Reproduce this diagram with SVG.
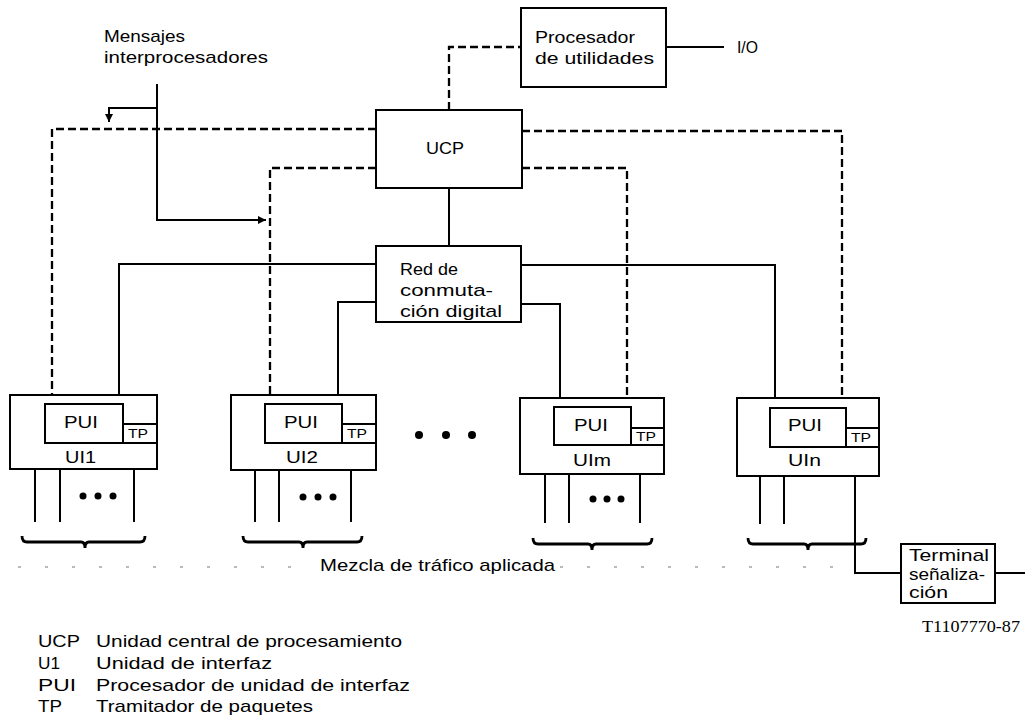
<svg xmlns="http://www.w3.org/2000/svg" width="1030" height="721" viewBox="0 0 1030 721">
<style>
.box{fill:#fff;stroke:#000;stroke-width:2}
.sol{fill:none;stroke:#000;stroke-width:2}
.dsh{fill:none;stroke:#000;stroke-width:2.3;stroke-dasharray:8 4}
.brc{fill:none;stroke:#000;stroke-width:2.8}
.t{font-family:"Liberation Sans",Arial,sans-serif;font-size:17px;fill:#000}
.s{font-family:"Liberation Sans",Arial,sans-serif;font-size:12px;fill:#000}
.ser{font-family:"Liberation Serif","Times New Roman",serif;font-size:16px;fill:#000}
.dot{fill:#000}
</style>
<defs>
<marker id="ah" viewBox="0 0 10 10" refX="10" refY="5" markerWidth="9" markerHeight="8" markerUnits="userSpaceOnUse" orient="auto">
<path d="M0,0 L10,5 L0,10 z" fill="#000"/>
</marker>
</defs>
<rect width="1030" height="721" fill="#fff"/>

<g id="connectors">
<path class="dsh" d="M376,129 H52 V395"/>
<path class="dsh" d="M522,131 H842 V398"/>
<path class="dsh" d="M376,168 H270 V395"/>
<path class="dsh" d="M522,168 H627 V398"/>
<path class="dsh" d="M449,110 V47 H521"/>
<path class="sol" d="M449,188 V246"/>
<path class="sol" d="M376,264 H119 V395"/>
<path class="sol" d="M376,302 H338 V395"/>
<path class="sol" d="M521,265 H775 V398"/>
<path class="sol" d="M521,304 H560 V398"/>
<path class="sol" d="M666,47 H724"/>
<path class="sol" d="M157,84 V220 H266" marker-end="url(#ah)"/>
<path class="sol" d="M157,108 H109 V122" marker-end="url(#ah)"/>
<path class="sol" d="M35,469 V522 M60,469 V522 M134,469 V522"/>
<path class="sol" d="M255,470 V522 M279,470 V522 M351,470 V522"/>
<path class="sol" d="M545,474 V523 M569,474 V523 M640,474 V523"/>
<path class="sol" d="M760,476 V524 M784,476 V524"/>
<path class="sol" d="M855,476 V573 H901"/>
<path class="sol" d="M995,573 H1025"/>
</g>

<g id="braces">
<path class="brc" d="M22,536 Q22,542 27,542 L81,542 Q85,542 85,548 Q85,542 89,542 L140,542 Q145,542 145,536"/>
<path class="brc" d="M243,536 Q243,542 248,542 L299,542 Q303,542 303,548 Q303,542 307,542 L357,542 Q362,542 362,536"/>
<path class="brc" d="M533,538 Q533,544 538,544 L588,544 Q592,544 592,550 Q592,544 596,544 L647,544 Q652,544 652,538"/>
<path class="brc" d="M748,538 Q748,544 753,544 L804,544 Q808,544 808,550 Q808,544 812,544 L861,544 Q866,544 866,538"/>
</g>

<g id="ellipsis">
<circle class="dot" cx="83" cy="496" r="3.5"/><circle class="dot" cx="98" cy="496" r="3.5"/><circle class="dot" cx="113" cy="496" r="3.5"/>
<circle class="dot" cx="303" cy="497" r="3.5"/><circle class="dot" cx="318" cy="497" r="3.5"/><circle class="dot" cx="333" cy="497" r="3.5"/>
<circle class="dot" cx="593" cy="499" r="3.5"/><circle class="dot" cx="607" cy="499" r="3.5"/><circle class="dot" cx="621" cy="499" r="3.5"/>
<circle class="dot" cx="419" cy="435" r="4"/><circle class="dot" cx="446" cy="435" r="4"/><circle class="dot" cx="472" cy="435" r="4"/>
</g>

<g id="ucp">
<rect class="box" x="376" y="110" width="146" height="78"/>
<text class="t" x="426" y="154" textLength="38" lengthAdjust="spacingAndGlyphs">UCP</text>
</g>

<g id="procesador">
<rect class="box" x="521" y="8" width="145" height="79"/>
<text class="t" x="535" y="43" textLength="100" lengthAdjust="spacingAndGlyphs">Procesador</text>
<text class="t" x="535" y="64" textLength="119" lengthAdjust="spacingAndGlyphs">de utilidades</text>
</g>

<text class="t" x="737" y="53" textLength="21" lengthAdjust="spacingAndGlyphs">I/O</text>

<g id="mensajes">
<text class="t" x="104" y="42" textLength="81" lengthAdjust="spacingAndGlyphs">Mensajes</text>
<text class="t" x="104" y="63" textLength="164" lengthAdjust="spacingAndGlyphs">interprocesadores</text>
</g>

<g id="red">
<rect class="box" x="376" y="246" width="145" height="76"/>
<text class="t" x="400" y="275" textLength="58" lengthAdjust="spacingAndGlyphs">Red de</text>
<text class="t" x="400" y="296" textLength="93" lengthAdjust="spacingAndGlyphs">conmuta-</text>
<text class="t" x="400" y="317" textLength="102" lengthAdjust="spacingAndGlyphs">ción digital</text>
</g>

<g id="ui1">
<rect class="box" x="10" y="395" width="147" height="74"/>
<rect class="box" x="45" y="404" width="78" height="39"/>
<rect class="box" x="123" y="424" width="34" height="19"/>
<line class="sol" x1="45" y1="443" x2="157" y2="443"/>
<text class="t" x="64" y="428" textLength="34" lengthAdjust="spacingAndGlyphs">PUI</text>
<text class="s" x="128" y="438" textLength="20" lengthAdjust="spacingAndGlyphs">TP</text>
<text class="t" x="65" y="463" textLength="31" lengthAdjust="spacingAndGlyphs">UI1</text>
</g>

<g id="ui2">
<rect class="box" x="231" y="395" width="145" height="75"/>
<rect class="box" x="265" y="404" width="77" height="39"/>
<rect class="box" x="342" y="424" width="34" height="19"/>
<line class="sol" x1="265" y1="443" x2="376" y2="443"/>
<text class="t" x="284" y="428" textLength="34" lengthAdjust="spacingAndGlyphs">PUI</text>
<text class="s" x="347" y="438" textLength="20" lengthAdjust="spacingAndGlyphs">TP</text>
<text class="t" x="286" y="463" textLength="32" lengthAdjust="spacingAndGlyphs">UI2</text>
</g>

<g id="uim">
<rect class="box" x="520" y="398" width="144" height="76"/>
<rect class="box" x="554" y="407" width="77" height="38"/>
<rect class="box" x="631" y="428" width="33" height="17"/>
<line class="sol" x1="554" y1="445" x2="664" y2="445"/>
<text class="t" x="574" y="431" textLength="34" lengthAdjust="spacingAndGlyphs">PUI</text>
<text class="s" x="636" y="441" textLength="20" lengthAdjust="spacingAndGlyphs">TP</text>
<text class="t" x="573" y="466" textLength="38" lengthAdjust="spacingAndGlyphs">UIm</text>
</g>

<g id="uin">
<rect class="box" x="737" y="398" width="142" height="78"/>
<rect class="box" x="770" y="408" width="76" height="39"/>
<rect class="box" x="846" y="428" width="33" height="19"/>
<line class="sol" x1="770" y1="447" x2="879" y2="447"/>
<text class="t" x="788" y="431" textLength="34" lengthAdjust="spacingAndGlyphs">PUI</text>
<text class="s" x="851" y="442" textLength="20" lengthAdjust="spacingAndGlyphs">TP</text>
<text class="t" x="788" y="466" textLength="33" lengthAdjust="spacingAndGlyphs">UIn</text>
</g>

<g id="terminal">
<rect class="box" x="901" y="544" width="94" height="59"/>
<text class="t" x="909" y="561" textLength="80" lengthAdjust="spacingAndGlyphs">Terminal</text>
<text class="t" x="909" y="580" textLength="76" lengthAdjust="spacingAndGlyphs">señaliza-</text>
<text class="t" x="909" y="598" textLength="39" lengthAdjust="spacingAndGlyphs">ción</text>
</g>

<path d="M18,567 H300 M560,567 H850" fill="none" stroke="#777" stroke-width="1.2" stroke-dasharray="3 24"/>

<text class="t" x="320" y="571" textLength="235" lengthAdjust="spacingAndGlyphs">Mezcla de tráfico aplicada</text>
<text class="ser" x="922" y="632" textLength="98" lengthAdjust="spacingAndGlyphs">T1107770-87</text>

<g id="legend">
<text class="t" x="38" y="647" textLength="42" lengthAdjust="spacingAndGlyphs">UCP</text>
<text class="t" x="96" y="647" textLength="306" lengthAdjust="spacingAndGlyphs">Unidad central de procesamiento</text>
<text class="t" x="38" y="669" textLength="22" lengthAdjust="spacingAndGlyphs">U1</text>
<text class="t" x="96" y="669" textLength="176" lengthAdjust="spacingAndGlyphs">Unidad de interfaz</text>
<text class="t" x="38" y="691" textLength="38" lengthAdjust="spacingAndGlyphs">PUI</text>
<text class="t" x="96" y="691" textLength="314" lengthAdjust="spacingAndGlyphs">Procesador de unidad de interfaz</text>
<text class="t" x="38" y="712" textLength="24" lengthAdjust="spacingAndGlyphs">TP</text>
<text class="t" x="96" y="712" textLength="217" lengthAdjust="spacingAndGlyphs">Tramitador de paquetes</text>
</g>
</svg>
